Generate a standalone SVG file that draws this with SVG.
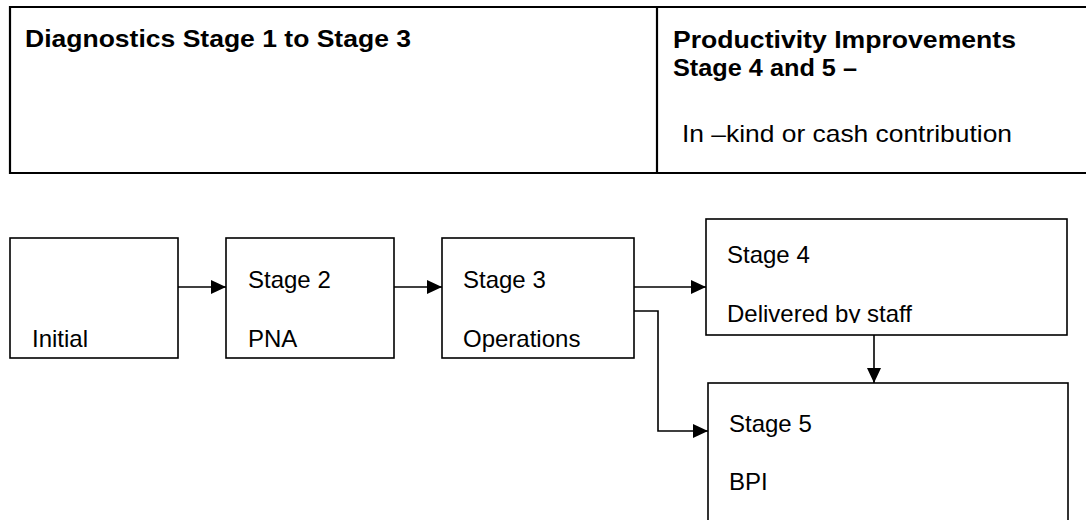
<svg xmlns="http://www.w3.org/2000/svg" width="1086" height="520" viewBox="0 0 1086 520">
<style>
.tbl{fill:none;stroke:#000;stroke-width:2.2}
.box{fill:#fff;stroke:#000;stroke-width:1.6}
.con{fill:none;stroke:#000;stroke-width:1.6}
.hb{font-family:"Liberation Sans",Arial,sans-serif;font-size:24px;font-weight:bold;fill:#000}
.hr{font-family:"Liberation Sans",Arial,sans-serif;font-size:24px;fill:#000}
.t{font-family:"Liberation Sans",Arial,sans-serif;font-size:24px;fill:#000}
</style>
<defs>
<marker id="ah" markerWidth="15" markerHeight="14" refX="15" refY="7" orient="auto" markerUnits="userSpaceOnUse">
<path d="M0,0 L15,7 L0,14 Z" fill="#000"/>
</marker>
<clipPath id="c4"><rect x="706" y="219" width="361" height="104"/></clipPath>
</defs>
<rect width="1086" height="520" fill="#fff"/>
<g id="header">
<path class="tbl" d="M1100,7 H10 V173 H1100"/>
<line class="tbl" x1="657" y1="7" x2="657" y2="173"/>
<text class="hb" x="25" y="47" textLength="386" lengthAdjust="spacingAndGlyphs">Diagnostics Stage 1 to Stage 3</text>
<text class="hb" x="673" y="48" textLength="343" lengthAdjust="spacingAndGlyphs">Productivity Improvements</text>
<text class="hb" x="673" y="76" textLength="184" lengthAdjust="spacingAndGlyphs">Stage 4 and 5 –</text>
<text class="hr" x="682" y="142" textLength="330" lengthAdjust="spacingAndGlyphs">In –kind or cash contribution</text>
</g>
<g id="connectors">
<line class="con" x1="178" y1="287" x2="226" y2="287" marker-end="url(#ah)"/>
<line class="con" x1="394" y1="287" x2="442" y2="287" marker-end="url(#ah)"/>
<line class="con" x1="634" y1="287" x2="706" y2="287" marker-end="url(#ah)"/>
<polyline class="con" points="634,311 658,311 658,431 708,431" marker-end="url(#ah)"/>
<line class="con" x1="874" y1="335" x2="874" y2="383" marker-end="url(#ah)"/>
</g>
<g id="node-initial">
<rect class="box" x="10" y="238" width="168" height="120"/>
<text class="t" x="32" y="347">Initial</text>
</g>
<g id="node-stage2">
<rect class="box" x="226" y="238" width="168" height="120"/>
<text class="t" x="248" y="288">Stage 2</text>
<text class="t" x="248" y="347">PNA</text>
</g>
<g id="node-stage3">
<rect class="box" x="442" y="238" width="192" height="120"/>
<text class="t" x="463" y="288">Stage 3</text>
<text class="t" x="463" y="347">Operations</text>
</g>
<g id="node-stage4">
<rect class="box" x="706" y="219" width="361" height="116"/>
<g clip-path="url(#c4)">
<text class="t" x="727" y="263">Stage 4</text>
<text class="t" x="727" y="322">Delivered by staff</text>
</g>
</g>
<g id="node-stage5">
<rect class="box" x="708" y="383" width="360" height="150"/>
<text class="t" x="729" y="432">Stage 5</text>
<text class="t" x="729" y="490">BPI</text>
</g>
</svg>
